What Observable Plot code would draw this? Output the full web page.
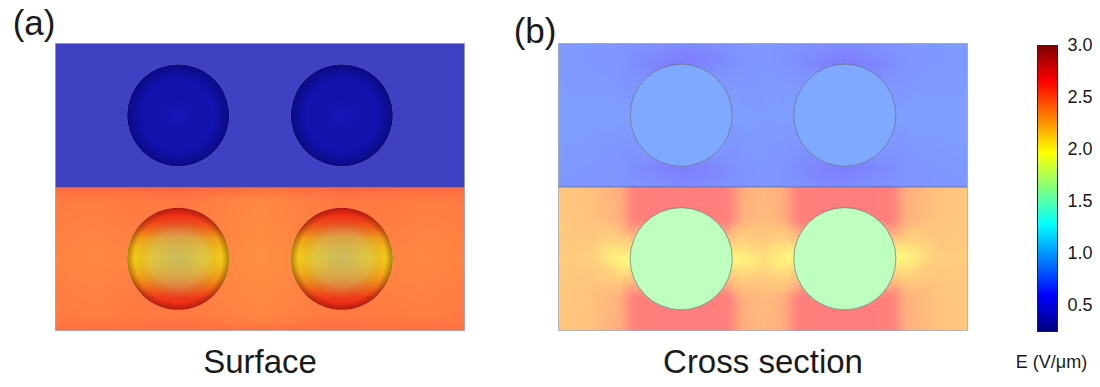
<!DOCTYPE html>
<html>
<head>
<meta charset="utf-8">
<script src="https://cdn.jsdelivr.net/npm/d3@7"></script>
<script src="https://cdn.jsdelivr.net/npm/@observablehq/plot@0.6"></script>
<style>
  html, body { margin: 0; padding: 0; background: #fff; }
  #chart { position: relative; width: 1100px; height: 387px; font-family: "Liberation Sans", Arial, sans-serif; }
  #chart svg { position: absolute; top: 0; }
</style>
</head>
<body>
<div id="chart"></div>
<script>
// ---- Panels and particle geometry (μm) ----
const panels = ["Surface", "Cross section"];
const tags = ["(a)", "(b)"];
const particleX = [3, 7];          // particle centres along the film
const rowY = [1.75, 5.25];         // centre of the particle row in each layer
const particleR = 1.25;            // particle radius
const particleTopE = [0.36, 0.82]; // field inside upper particles, per panel
const particleBottomE = [null, 1.62]; // lower particles (surface view uses band shading)

// ---- Field samples, surface view (V/μm) ----
const surfX = [0, 1, 3, 5, 7, 9, 10];
const surfTopY = [0, 3.5];
const surfTopE = [
  [0.38, 0.38, 0.38, 0.38, 0.38, 0.38, 0.38],
  [0.38, 0.38, 0.38, 0.38, 0.38, 0.38, 0.38]
];
const surfBotY = [3.5, 3.8, 5.25, 6.7, 7];
const surfBotE = [
  [2.52, 2.52, 2.53, 2.50, 2.53, 2.52, 2.52],
  [2.45, 2.44, 2.46, 2.40, 2.46, 2.44, 2.45],
  [2.42, 2.40, 2.44, 2.37, 2.44, 2.40, 2.42],
  [2.45, 2.44, 2.46, 2.41, 2.46, 2.44, 2.45],
  [2.50, 2.49, 2.50, 2.48, 2.50, 2.49, 2.50]
];

// ---- Field samples, cross section (V/μm) ----
const crossX = [0, 0.8, 1.5, 1.85, 3, 4.15, 4.5, 5, 5.5, 5.85, 7, 8.15, 8.5, 9.2, 10];
const crossTopY = [0, 0.45, 1.75, 3.05, 3.5];
const crossTopE = [
  [0.74, 0.73, 0.72, 0.70, 0.66, 0.70, 0.72, 0.73, 0.72, 0.70, 0.66, 0.70, 0.72, 0.73, 0.74],
  [0.74, 0.73, 0.71, 0.67, 0.57, 0.67, 0.71, 0.73, 0.71, 0.67, 0.57, 0.67, 0.71, 0.73, 0.74],
  [0.76, 0.76, 0.76, 0.78, 0.82, 0.78, 0.76, 0.75, 0.76, 0.78, 0.82, 0.78, 0.76, 0.76, 0.76],
  [0.74, 0.73, 0.71, 0.67, 0.58, 0.67, 0.71, 0.73, 0.71, 0.67, 0.58, 0.67, 0.71, 0.73, 0.74],
  [0.73, 0.72, 0.71, 0.70, 0.66, 0.70, 0.71, 0.72, 0.71, 0.70, 0.66, 0.70, 0.71, 0.72, 0.73]
];
const crossBotY = [3.5, 4.3, 4.75, 5.25, 5.75, 6.2, 7];
const crossBotE = [
  [2.26, 2.30, 2.40, 2.64, 2.66, 2.64, 2.40, 2.34, 2.40, 2.64, 2.66, 2.64, 2.40, 2.30, 2.26],
  [2.26, 2.29, 2.38, 2.64, 2.66, 2.64, 2.38, 2.33, 2.38, 2.64, 2.66, 2.64, 2.38, 2.29, 2.26],
  [2.25, 2.27, 2.22, 2.30, 2.60, 2.30, 2.22, 2.26, 2.22, 2.30, 2.60, 2.30, 2.22, 2.27, 2.25],
  [2.24, 2.22, 2.02, 1.97, 2.00, 1.97, 2.02, 2.14, 2.02, 1.97, 2.00, 1.97, 2.02, 2.22, 2.24],
  [2.25, 2.27, 2.22, 2.30, 2.60, 2.30, 2.22, 2.26, 2.22, 2.30, 2.60, 2.30, 2.22, 2.27, 2.25],
  [2.26, 2.29, 2.38, 2.64, 2.66, 2.64, 2.38, 2.33, 2.38, 2.64, 2.66, 2.64, 2.38, 2.29, 2.26],
  [2.26, 2.30, 2.40, 2.64, 2.66, 2.64, 2.40, 2.34, 2.40, 2.64, 2.66, 2.64, 2.40, 2.30, 2.26]
];

// Field bands across the lower particles in the surface view (top → bottom)
const bandAt = [0, 0.06, 0.15, 0.22, 0.30, 0.40, 0.50, 0.60, 0.68, 0.78, 0.88, 1];
const bandE = [2.62, 2.60, 2.50, 2.38, 2.22, 2.12, 2.08, 2.14, 2.22, 2.38, 2.55, 2.62];

// ---- Colour bar ----
const ticks = [0.5, 1.0, 1.5, 2.0, 2.5, 3.0];
const jetStops = [0.25, 0.594, 1.281, 1.969, 2.656, 3.0];
const jetColors = ["#00007f", "#0000ff", "#00ffff", "#ffff00", "#ff0000", "#7f0000"];
const colorScale = {type: "linear", domain: jetStops, range: jetColors, interpolate: "rgb", clamp: true};

// ---- Build tables ----
const grid = (panel, xs, ys, rows) => ys.flatMap((y, j) => xs.map((x, i) => ({panel, x, y, E: rows[j][i]})));
const surfTop = grid(panels[0], surfX, surfTopY, surfTopE);
const surfBot = grid(panels[0], surfX, surfBotY, surfBotE);
const crossTop = grid(panels[1], crossX, crossTopY, crossTopE);
const crossBot = grid(panels[1], crossX, crossBotY, crossBotE);

const particles = panels.flatMap((panel, p) =>
  rowY.flatMap((y, k) => particleX.map((x) => ({
    panel, layer: k, x, y, r: particleR,
    E: k === 0 ? particleTopE[p] : particleBottomE[p]
  })))
);
const pick = (p, k) => particles.filter((d) => d.panel === panels[p] && d.layer === k);
const tagRows = panels.map((panel, i) => ({panel, tag: tags[i]}));

// ---- Layout ----
const W = 1000, H = 387, mL = 55, mR = 33, mT = 43, mB = 57;
const gap = 0.187;
const bandW = (W - mL - mR) / (2 - gap) * (1 - gap);
const font = "Liberation Sans, Arial, sans-serif";

const field = (data, y1, y2, opacity) => Plot.raster(data, {
  x: "x", y: "y", fill: "E", fx: "panel",
  x1: 0, x2: 10, y1, y2,
  interpolate: "barycentric", blur: 2, opacity
});

const main = Plot.plot({
  width: W, height: H,
  marginLeft: mL, marginRight: mR, marginTop: mT, marginBottom: mB,
  style: {fontFamily: font, color: "#1a1a1a", background: "transparent", overflow: "visible"},
  fx: {domain: panels, paddingInner: gap, paddingOuter: 0, label: null},
  x: {domain: [0, 10], axis: null},
  y: {domain: [0, 7], reverse: true, axis: null},
  r: {type: "linear", domain: [0, 10], range: [0, bandW]},
  color: colorScale,
  marks: [
    field(surfTop, 0, 3.5, 0.75),
    field(surfBot, 3.5, 7, 0.74),
    field(crossTop, 0, 3.5, 0.5),
    field(crossBot, 3.5, 7, 0.51),
    Plot.ruleY([3.5], {stroke: "#55607a", strokeOpacity: 0.7}),
    Plot.frame({stroke: "#8a90a4", strokeOpacity: 0.6}),
    // particles: white base so the translucent fill reads like the layers
    Plot.dot(particles, {x: "x", y: "y", r: "r", fx: "panel", fill: "white"}),
    Plot.dot(pick(0, 0), {x: "x", y: "y", r: "r", fx: "panel", fill: "E", fillOpacity: 0.93}),
    Plot.dot(pick(0, 0), {x: "x", y: "y", r: "r", fx: "panel", fill: "url(#shadeBlue)"}),
    Plot.dot(pick(0, 1), {x: "x", y: "y", r: "r", fx: "panel", fill: "url(#bands)", fillOpacity: 0.9}),
    Plot.dot(pick(0, 1), {x: "x", y: "y", r: "r", fx: "panel", fill: "url(#shadeWarm)"}),
    Plot.dot(particles.filter((d) => d.panel === panels[1]), {
      x: "x", y: "y", r: "r", fx: "panel", fill: "E", fillOpacity: 0.5,
      stroke: "#5d6470", strokeWidth: 0.8, strokeOpacity: 0.8
    }),
    Plot.text(tagRows.slice(0, 1), {text: "tag", fx: "panel", frameAnchor: "top-left", textAnchor: "end",
      lineAnchor: "middle", dy: -20, fontSize: 35}),
    Plot.text(tagRows.slice(1), {text: "tag", fx: "panel", frameAnchor: "top-left", textAnchor: "end",
      lineAnchor: "middle", dy: -12, dx: -2, fontSize: 35}),
    Plot.axisFx({anchor: "bottom", tickSize: 0, tickPadding: 19, fontSize: 33, label: null})
  ]
});

// Gradients for the rendered (surface view) particles
const cs = Plot.scale({color: colorScale});
const defs = d3.select(main).insert("defs", ":first-child");
const bands = defs.append("linearGradient").attr("id", "bands")
  .attr("x1", 0).attr("y1", 0).attr("x2", 0).attr("y2", 1);
bandAt.forEach((o, i) => bands.append("stop").attr("offset", o).attr("stop-color", cs.apply(bandE[i])));

const warm = defs.append("radialGradient").attr("id", "shadeWarm");
[[0, "#8a94a8", 0.46], [0.55, "#8a94a8", 0.26], [0.85, "#5a1800", 0.08], [1, "#4a1000", 0.45]]
  .forEach(([o, c, a]) => warm.append("stop").attr("offset", o).attr("stop-color", c).attr("stop-opacity", a));

const blue = defs.append("radialGradient").attr("id", "shadeBlue");
[[0, "#3030ff", 0.15], [0.7, "#000040", 0], [1, "#000030", 0.35]]
  .forEach(([o, c, a]) => blue.append("stop").attr("offset", o).attr("stop-color", c).attr("stop-opacity", a));

// ---- Colour bar ----
const bar = Plot.plot({
  width: 100, height: H,
  marginLeft: 37, marginRight: 43, marginTop: 45, marginBottom: 56,
  style: {fontFamily: font, color: "#1a1a1a", background: "transparent", overflow: "visible"},
  x: {domain: [0, 1], axis: null},
  y: {domain: [0.25, 3.0]},
  color: colorScale,
  marks: [
    Plot.raster({fill: (x, y) => y, x1: 0, x2: 1, y1: 0.25, y2: 3.0, pixelSize: 1}),
    Plot.frame({stroke: "#222", strokeWidth: 1}),
    Plot.axisY(ticks, {anchor: "right", tickSize: 0, tickPadding: 10, tickFormat: d3.format(".1f"), fontSize: 18, label: null}),
    Plot.text(["E (V/μm)"], {frameAnchor: "bottom", dx: 4, dy: 31, lineAnchor: "middle", fontSize: 18})
  ]
});

const chart = document.getElementById("chart");
main.style.left = "0px";
bar.style.left = "1000px";
chart.append(main, bar);
</script>
</body>
</html>
